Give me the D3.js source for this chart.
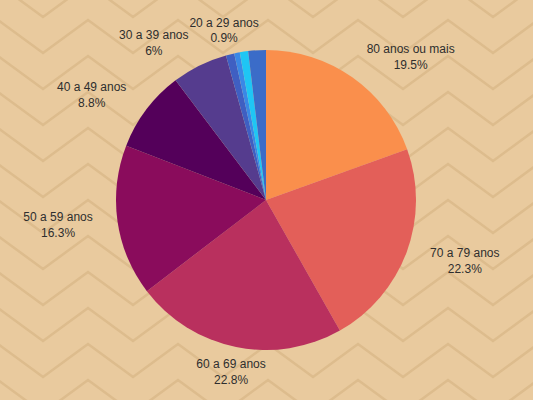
<!DOCTYPE html>
<html>
<head>
<meta charset="utf-8">
<script src="https://cdn.jsdelivr.net/npm/d3@7"></script>
<style>
  html, body { margin: 0; padding: 0; background: #e9ca9e; }
  svg { display: block; }
</style>
</head>
<body>
<script>
// dados (faixas etárias, no sentido horário a partir do topo)
var faixas = ['80 anos ou mais', '70 a 79 anos', '60 a 69 anos', '50 a 59 anos',
              '40 a 49 anos', '30 a 39 anos', '20 a 29 anos', '10 a 19 anos',
              '0 a 9 anos', 'Sem informação'];
var percentuais = [19.5, 22.3, 22.8, 16.3, 8.8, 6, 0.9, 0.6, 0.9, 1.9];
var rotulados = ['80 anos ou mais', '70 a 79 anos', '60 a 69 anos', '50 a 59 anos',
                 '40 a 49 anos', '30 a 39 anos', '20 a 29 anos'];
var cores = ['#fa8f4c', '#e35f59', '#b9305e', '#8a0c5c', '#54005a',
             '#553c8e', '#3f5fc2', '#3a88e6', '#1fc6f4', '#3b6cc8'];

var width = 533, height = 400;
var cx = 266, cy = 200, raio = 150;

var svg = d3.select('body')
  .append('svg')
    .attr('width', width)
    .attr('height', height);

// fundo com zigue-zague
svg.append('rect')
  .attr('width', width)
  .attr('height', height)
  .attr('fill', '#e9ca9e');

var zig = svg.append('g').attr('class', 'zigzag');
var linha = d3.line();
for (var k = -2; k < 13; k++) {
  var y0 = 20 + 36 * k;
  var pts = [];
  for (var j = 0; j < 15; j++) {
    var x = -47 + 45 * j;
    pts.push([x, j % 2 === 0 ? y0 + 33 : y0]);
  }
  zig.append('path')
    .attr('d', linha(pts))
    .attr('fill', 'none')
    .attr('stroke', '#d8b787')
    .attr('stroke-width', 2.5)
    .attr('stroke-linejoin', 'miter')
    .attr('opacity', 0.75);
}

// pizza
var dados = faixas.map(function(f, i) {
  return { faixa: f, valor: percentuais[i], cor: cores[i] };
});

var pie = d3.pie()
  .sort(null)
  .value(function(d) { return d.valor; });

var arc = d3.arc().innerRadius(0).outerRadius(raio);
var arcRotulo = d3.arc().innerRadius(175).outerRadius(175);

var g = svg.append('g')
  .attr('transform', 'translate(' + cx + ',' + cy + ')');

var fatias = pie(dados);

g.selectAll('path.fatia')
  .data(fatias)
  .enter()
  .append('path')
    .attr('class', 'fatia')
    .attr('d', arc)
    .attr('fill', function(d) { return d.data.cor; });

// rótulos
var rotulos = g.selectAll('text.rotulo')
  .data(fatias.filter(function(d) { return rotulados.indexOf(d.data.faixa) >= 0; }))
  .enter()
  .append('text')
    .attr('class', 'rotulo')
    .attr('text-anchor', 'middle')
    .style('font-family', '"Liberation Sans", Arial, sans-serif')
    .style('font-size', '12px')
    .attr('fill', '#2e2e2e');

rotulos.append('tspan')
  .attr('class', 'nome')
  .attr('x', 0)
  .attr('dy', '-0.3em')
  .text(function(d) { return d.data.faixa; });

rotulos.append('tspan')
  .attr('class', 'pct')
  .attr('x', 0)
  .attr('dy', '1.33em')
  .text(function(d) { return d.data.valor + '%'; });

rotulos.each(function(d) {
  var c = arcRotulo.centroid(d);
  var meio = (d.startAngle + d.endAngle) / 2;
  var s = Math.sin(meio);
  var w = this.getBBox().width;
  var desloc = Math.abs(s) < 0.3 ? 0 : (s > 0 ? 1 : -1) * w / 2;
  d3.select(this)
    .attr('transform', 'translate(' + (c[0] + desloc) + ',' + c[1] + ')');
});
</script>
</body>
</html>
